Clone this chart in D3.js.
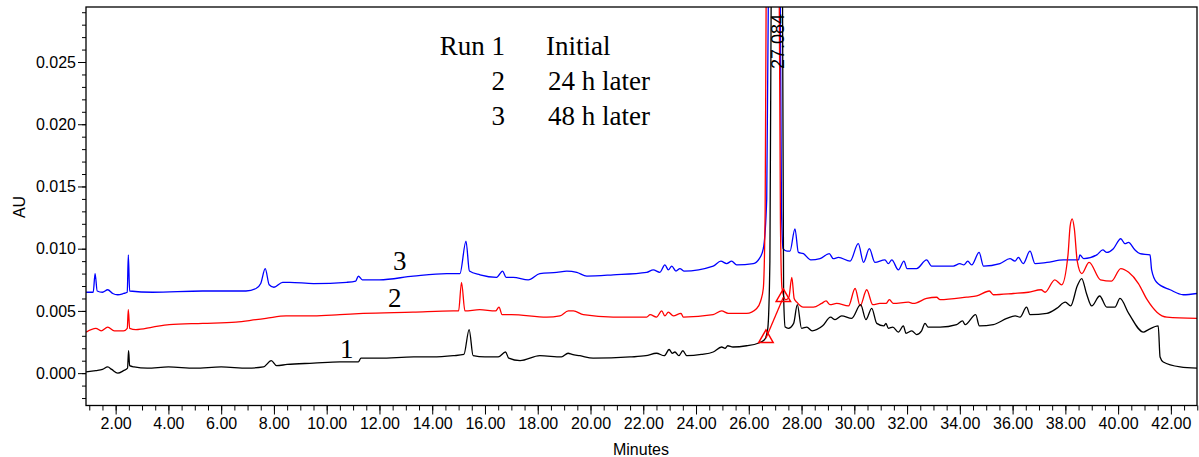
<!DOCTYPE html>
<html>
<head>
<meta charset="utf-8">
<script src="https://cdn.jsdelivr.net/npm/d3@7"></script>
<style>
  body { margin: 0; background: #fff; }
  svg { display: block; }
</style>
</head>
<body>
<svg id="chart" width="1199" height="457"></svg>
<script>
// chromatogram traces, [minutes, AU]
const run1 = [
  [0.88, 0.0001], [1.25, 0.0002], [1.5, 0.0003], [1.7, 0.0005], [1.85, 0.0003], [2.08, 0.0000],
  [2.3, 0.0002], [2.45, 0.0004], [2.49, 0.0018], [2.53, 0.0006], [2.7, 0.0005], [3.2, 0.0004],
  [4.0, 0.0005], [5.0, 0.0004], [6.0, 0.0005], [7.0, 0.0004], [7.6, 0.0005], [7.9, 0.0010],
  [8.1, 0.0006], [8.5, 0.0007], [9.5, 0.0008], [10.5, 0.0009], [11.2, 0.0009], [11.3, 0.0012],
  [12.0, 0.0012], [13.3, 0.0013], [14.0, 0.0013], [14.8, 0.0014], [15.2, 0.0015], [15.4, 0.0035],
  [15.55, 0.0014], [16.0, 0.0013], [16.5, 0.0013], [16.78, 0.0017], [16.9, 0.0012], [17.33, 0.0010],
  [18.08, 0.0014], [18.9, 0.0013], [19.15, 0.0016], [19.3, 0.0015], [19.6, 0.0014], [20.1, 0.0012],
  [21.5, 0.0013], [22.1, 0.0014], [22.5, 0.0016], [22.8, 0.0014], [22.98, 0.0019], [23.1, 0.0016],
  [23.2, 0.0017], [23.35, 0.0014], [23.5, 0.0018], [23.65, 0.0014], [24.2, 0.0015], [24.65, 0.0017],
  [24.97, 0.0021], [25.1, 0.0020], [25.2, 0.0022], [25.4, 0.0021], [25.92, 0.0022], [26.35, 0.0024],
  [26.6, 0.0027], [26.72, 0.0036], [26.8, 0.009], [26.86, 0.035], [27.08, 0.45], [27.27, 0.035],
  [27.32, 0.0062], [27.38, 0.0037], [27.5, 0.0036], [27.7, 0.0040], [27.84, 0.0055], [28.0, 0.0036],
  [28.2, 0.0037], [28.4, 0.0034], [28.8, 0.0038], [29.1, 0.0045], [29.27, 0.0043], [29.52, 0.0046],
  [29.9, 0.0044], [30.24, 0.0055], [30.44, 0.0043], [30.66, 0.0052], [30.85, 0.0040], [31.12, 0.0038],
  [31.2, 0.0040], [31.29, 0.0036], [31.46, 0.0037], [31.67, 0.0033], [31.86, 0.0038], [31.96, 0.0032],
  [32.18, 0.0034], [32.36, 0.0031], [32.55, 0.0034], [32.68, 0.0040], [32.8, 0.0037], [33.25, 0.0037],
  [33.88, 0.0039], [34.1, 0.0042], [34.2, 0.0039], [34.6, 0.0047], [34.74, 0.0038], [35.27, 0.0039],
  [35.78, 0.0044], [36.1, 0.0046], [36.28, 0.0045], [36.53, 0.0053], [36.66, 0.0047], [37.3, 0.0048],
  [37.67, 0.0052], [38.0, 0.0057], [38.2, 0.0054], [38.45, 0.0070], [38.62, 0.0076], [38.8, 0.0064],
  [39.0, 0.0054], [39.3, 0.0062], [39.57, 0.0053], [39.88, 0.0053], [40.07, 0.0060], [40.4, 0.0048],
  [40.96, 0.0033], [41.15, 0.0035], [41.52, 0.0038], [41.59, 0.0013], [41.71, 0.0009], [42.35, 0.0005],
  [42.99, 0.0004]
];

const run2 = [
  [0.88, 0.0033], [1.25, 0.0036], [1.45, 0.0034], [1.7, 0.0037], [1.95, 0.0034], [2.3, 0.0034],
  [2.44, 0.0036], [2.48, 0.0051], [2.53, 0.0036], [2.77, 0.0035], [3.4, 0.0037], [4.03, 0.0039],
  [5.3, 0.0040], [6.56, 0.0041], [7.32, 0.0043], [7.7, 0.0044], [8.46, 0.0046], [9.5, 0.0046],
  [10.5, 0.0047], [11.38, 0.0048], [13.27, 0.0049], [14.79, 0.0050], [15.0, 0.0050], [15.11, 0.0073],
  [15.24, 0.0050], [15.8, 0.0051], [16.4, 0.0050], [16.53, 0.0053], [16.65, 0.0047], [17.0, 0.0047],
  [18.34, 0.0045], [18.84, 0.0046], [19.16, 0.0050], [19.35, 0.0050], [19.73, 0.0047], [20.86, 0.0045],
  [22.13, 0.0045], [22.26, 0.0047], [22.5, 0.0045], [22.7, 0.0050], [22.82, 0.0046], [22.95, 0.0049],
  [23.14, 0.0046], [23.43, 0.0048], [23.52, 0.0045], [24.65, 0.0047], [24.97, 0.0050], [25.22, 0.0048],
  [25.92, 0.0048], [26.3, 0.0052], [26.45, 0.0058], [26.55, 0.0068], [26.62, 0.013], [26.68, 0.04],
  [26.9, 0.35], [27.13, 0.04], [27.2, 0.012], [27.26, 0.0068], [27.4, 0.0059], [27.52, 0.0061],
  [27.63, 0.0077], [27.72, 0.0060], [27.82, 0.0057], [28.07, 0.0053], [28.45, 0.0053], [28.76, 0.0056],
  [28.93, 0.0058], [29.08, 0.0055], [29.33, 0.0056], [29.78, 0.0054], [30.03, 0.0068], [30.22, 0.0054],
  [30.47, 0.0067], [30.7, 0.0055], [30.97, 0.0056], [31.2, 0.0056], [31.33, 0.0059], [31.48, 0.0056],
  [32.05, 0.0057], [32.24, 0.0056], [32.74, 0.0060], [33.12, 0.0061], [33.25, 0.0059], [34.26, 0.0061],
  [34.64, 0.0062], [35.12, 0.0066], [35.27, 0.0063], [36.03, 0.0064], [36.6, 0.0065], [37.08, 0.0067],
  [37.23, 0.0065], [37.6, 0.0075], [37.86, 0.0071], [38.1, 0.0095], [38.18, 0.0118], [38.26, 0.0124],
  [38.34, 0.0116], [38.45, 0.0090], [38.62, 0.0080], [38.9, 0.0089], [39.33, 0.0075], [39.75, 0.0074],
  [40.1, 0.0084], [40.4, 0.0081], [40.77, 0.0072], [41.1, 0.0059], [41.47, 0.0049], [41.85, 0.0045],
  [42.99, 0.0044]
];

const run3 = [
  [0.88, 0.0065], [1.15, 0.0065], [1.22, 0.0080], [1.3, 0.0066], [1.5, 0.0065], [1.7, 0.0067],
  [1.89, 0.0064], [2.08, 0.0063], [2.3, 0.0064], [2.44, 0.0065], [2.48, 0.0095], [2.53, 0.0066],
  [3.4, 0.0065], [5.3, 0.0066], [6.94, 0.0066], [7.32, 0.0068], [7.5, 0.0072], [7.67, 0.0084],
  [7.82, 0.0071], [8.0, 0.0069], [8.33, 0.0073], [8.6, 0.0073], [9.5, 0.0072], [10.76, 0.0073],
  [11.1, 0.0074], [11.2, 0.0078], [11.35, 0.0075], [12.0, 0.0075], [13.28, 0.0078], [14.55, 0.0080],
  [15.05, 0.0080], [15.28, 0.0106], [15.41, 0.0082], [15.81, 0.0079], [16.44, 0.0077], [16.67, 0.0082],
  [16.8, 0.0077], [17.07, 0.0077], [17.64, 0.0075], [18.08, 0.0080], [18.72, 0.0081], [19.1, 0.0082],
  [19.48, 0.0081], [19.86, 0.0078], [20.86, 0.0079], [22.13, 0.0081], [22.38, 0.0083], [22.63, 0.0081],
  [22.82, 0.0087], [22.95, 0.0083], [23.08, 0.0086], [23.24, 0.0082], [23.39, 0.0084], [23.54, 0.0082],
  [24.65, 0.0086], [24.94, 0.0090], [25.16, 0.0088], [25.35, 0.0090], [25.54, 0.0087], [26.17, 0.0088],
  [26.4, 0.0092], [26.55, 0.0100], [26.68, 0.014], [26.76, 0.035], [26.97, 0.30], [27.18, 0.035],
  [27.24, 0.013], [27.3, 0.0100], [27.45, 0.0098], [27.56, 0.0098], [27.75, 0.0116], [27.88, 0.0097],
  [28.07, 0.0096], [28.35, 0.0091], [28.7, 0.0092], [29.05, 0.0096], [29.2, 0.0092], [29.4, 0.0093],
  [29.84, 0.0090], [30.15, 0.0104], [30.35, 0.0089], [30.57, 0.0100], [30.78, 0.0089], [31.16, 0.0091],
  [31.29, 0.0088], [31.42, 0.0091], [31.67, 0.0083], [31.88, 0.0090], [32.0, 0.0084], [32.36, 0.0084],
  [32.74, 0.0091], [32.93, 0.0086], [33.75, 0.0086], [34.0, 0.0088], [34.15, 0.0087], [34.3, 0.0090],
  [34.45, 0.0087], [34.73, 0.0097], [34.9, 0.0086], [35.52, 0.0088], [35.9, 0.0092], [36.09, 0.0090],
  [36.22, 0.0093], [36.4, 0.0088], [36.66, 0.0098], [36.85, 0.0088], [37.3, 0.0089], [37.93, 0.0091],
  [38.5, 0.0091], [38.55, 0.0095], [38.7, 0.0092], [39.19, 0.0095], [39.42, 0.0099], [39.57, 0.0097],
  [39.82, 0.0100], [40.1, 0.0108], [40.26, 0.0104], [40.39, 0.0105], [40.64, 0.0099], [40.83, 0.0096],
  [41.21, 0.0095], [41.27, 0.0083], [41.46, 0.0073], [41.97, 0.0067], [42.47, 0.0063], [42.99, 0.0064]
];

// integration marks on the main peak of run 1 (start, end)
const peakMarks = [[26.65, 0.0028], [27.31, 0.0061]];
const peakLabel = { t: 27.084, text: "27.084" };

const traceColors = ["#000000", "#ff0000", "#0000ff"];
const traceNames = ["1", "2", "3"];
const traceLabelPos = [[10.5, 0.00125], [12.32, 0.0053], [12.51, 0.0083]];

const legendLeft = ["Run 1", "2", "3"];
const legendRight = ["Initial", "24 h later", "48 h later"];

const xMajorTicks = d3.range(2, 43, 2);
const xMinorTicks = d3.range(1, 43.01, 0.5);
const yMajorTicks = [0, 0.005, 0.01, 0.015, 0.02, 0.025];
const yMinorTicks = d3.range(-2, 30).map(d => d / 1000);

const svg = d3.select("svg#chart");

//plot area
const plot = { left: 86, right: 1197, top: 7, bottom: 405.5 };

//scale functions
const xScale = d3.scaleLinear().domain([0.876, 42.99]).range([plot.left, plot.right]);
const yScale = d3.scaleLinear().domain([-0.0026, 0.02942]).range([plot.bottom, plot.top]);

const sans = "'Liberation Sans', Arial, sans-serif";
const serif = "'Liberation Serif', 'Times New Roman', serif";

svg.append("clipPath").attr("id", "plotclip")
  .append("rect")
  .attr("x", plot.left).attr("y", plot.top)
  .attr("width", plot.right - plot.left).attr("height", plot.bottom - plot.top);

//axes: minor ticks first, then the labelled ones
const xMinor = svg.append("g").attr("transform", `translate(0,${plot.bottom})`)
  .call(d3.axisBottom(xScale).tickValues(xMinorTicks).tickSize(5).tickFormat(""));
const xMajor = svg.append("g").attr("transform", `translate(0,${plot.bottom})`)
  .call(d3.axisBottom(xScale).tickValues(xMajorTicks).tickSize(9).tickPadding(3).tickFormat(d3.format(".2f")));
const yMinor = svg.append("g").attr("transform", `translate(${plot.left},0)`)
  .call(d3.axisLeft(yScale).tickValues(yMinorTicks).tickSize(4).tickFormat(""));
const yMajor = svg.append("g").attr("transform", `translate(${plot.left},0)`)
  .call(d3.axisLeft(yScale).tickValues(yMajorTicks).tickSize(8).tickPadding(2).tickFormat(d3.format(".3f")));

[xMinor, xMajor, yMinor, yMajor].forEach(g => {
  g.select(".domain").remove();
  g.selectAll("line").attr("stroke", "#000").attr("stroke-width", 1);
  g.selectAll("text").attr("font-family", sans).attr("font-size", 16).attr("fill", "#000");
});

//axis titles
svg.append("text")
  .attr("x", 641).attr("y", 455)
  .attr("text-anchor", "middle")
  .attr("font-family", sans).attr("font-size", 16)
  .text("Minutes");

svg.append("text")
  .attr("transform", "translate(25,207) rotate(-90)")
  .attr("text-anchor", "middle")
  .attr("font-family", sans).attr("font-size", 16)
  .text("AU");

//line generator
const lineGenerator = d3.line()
  .x(d => xScale(d[0]))
  .y(d => yScale(d[1]))
  .curve(d3.curveMonotoneX);

const traces = svg.append("g").attr("clip-path", "url(#plotclip)");

[run3, run2, run1].forEach((run, i) => {
  const idx = 2 - i;
  traces.append("path")
    .attr("d", lineGenerator(run))
    .attr("fill", "none")
    .attr("stroke", traceColors[idx])
    .attr("stroke-width", 1.3);
});

//peak integration baseline + markers
traces.append("path")
  .attr("d", d3.line().x(d => xScale(d[0])).y(d => yScale(d[1]))(peakMarks))
  .attr("fill", "none")
  .attr("stroke", "#ff0000")
  .attr("stroke-width", 1.3);

traces.selectAll("path.mark")
  .data(peakMarks)
  .join("path")
  .attr("class", "mark")
  .attr("transform", d => `translate(${xScale(d[0])},${yScale(d[1])})`)
  .attr("d", d3.symbol(d3.symbolTriangle, 90))
  .attr("fill", "none")
  .attr("stroke", "#ff0000")
  .attr("stroke-width", 1.5);

//peak retention time label, reading upwards
svg.append("text")
  .attr("transform", `translate(${xScale(peakLabel.t) + 7},69) rotate(-90)`)
  .attr("font-family", sans).attr("font-size", 18)
  .text(peakLabel.text);

//frame
svg.append("rect")
  .attr("x", plot.left).attr("y", plot.top)
  .attr("width", plot.right - plot.left).attr("height", plot.bottom - plot.top)
  .attr("fill", "none").attr("stroke", "#000").attr("stroke-width", 1.3);

//trace numbers
svg.selectAll("text.tracelab")
  .data(traceNames)
  .join("text")
  .attr("class", "tracelab")
  .attr("x", (d, i) => xScale(traceLabelPos[i][0]))
  .attr("y", (d, i) => yScale(traceLabelPos[i][1]))
  .attr("font-family", serif).attr("font-size", 27)
  .text(d => d);

//legend
const legendY = [55, 90, 125];
svg.selectAll("text.legl")
  .data(legendLeft)
  .join("text")
  .attr("class", "legl")
  .attr("x", 505).attr("y", (d, i) => legendY[i])
  .attr("text-anchor", "end")
  .attr("font-family", serif).attr("font-size", 27)
  .text(d => d);

svg.selectAll("text.legr")
  .data(legendRight)
  .join("text")
  .attr("class", "legr")
  .attr("x", (d, i) => (i === 0 ? 546 : 548)).attr("y", (d, i) => legendY[i])
  .attr("font-family", serif).attr("font-size", 27)
  .text(d => d);
</script>
</body>
</html>
